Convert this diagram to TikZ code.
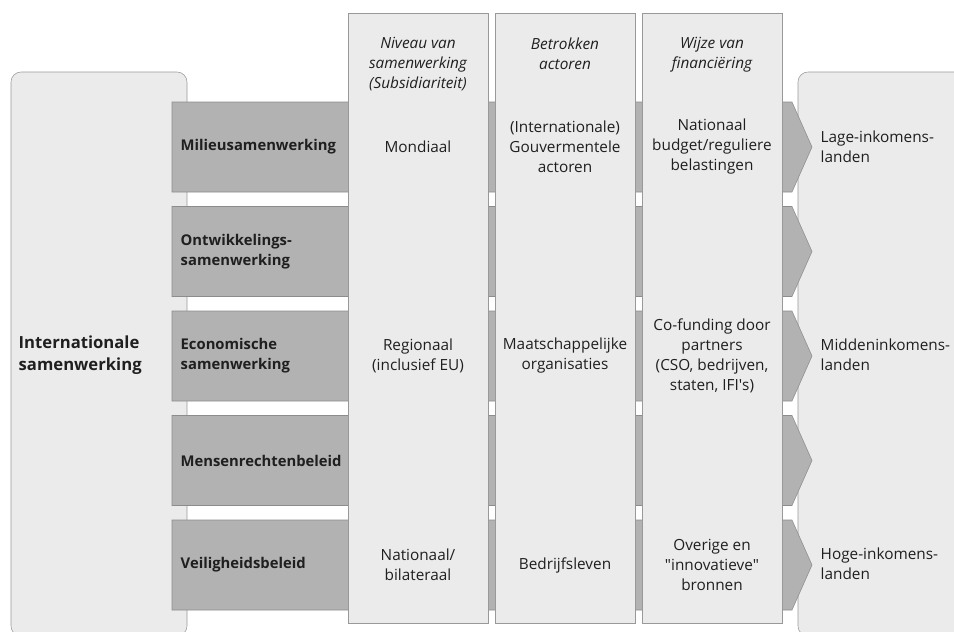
\documentclass[tikz,border=0pt]{standalone}
\usepackage{fontspec}
\setmainfont{Open Sans}
\usetikzlibrary{calc}

\newcommand{\bodysize}{\fontsize{11.5}{15}\selectfont}

\begin{document}
\begin{tikzpicture}[x=0.75pt, y=-0.75pt, font=\bodysize, text=black!88]

% Define the box dimensions
\def\px{0.75pt}
\def\barleft{172}
\def\barright{783}
\def\barheight{90}
\def\barstep{104.5}
\def\bartop{102}
\def\tipflat{9}
\def\tiplen{29}
\def\colwidth{140}
\def\colgap{7}
\def\coltop{13}
\def\colbottom{623}

% Define colors
\colorlet{panelfill}{black!8}
\colorlet{paneldraw}{black!40}
\colorlet{barfill}{black!30}
\colorlet{bardraw}{black!45}

\useasboundingbox (0,0) rectangle (954,632);

% Draw the two outer boxes
\node[draw=paneldraw, fill=panelfill, rounded corners=10*\px, minimum width=176*\px, minimum height=564*\px, inner sep=0pt, outer sep=0pt, anchor=north west] (intlbox) at (11,72) {};
\node[draw=paneldraw, fill=panelfill, rounded corners=10*\px, minimum width=176*\px, minimum height=564*\px, inner sep=0pt, outer sep=0pt, anchor=north west] (landbox) at (798,72) {};

\node[font=\fontsize{12.5}{17}\selectfont\bfseries, align=left, anchor=west] (intl) at (14,355) {Internationale\\samenwerking};

% Draw the five bars with their arrow tips
\foreach \i/\lbl in {0/Milieusamenwerking, 1/{Ontwikkelings-\\samenwerking}, 2/{Economische\\samenwerking}, 3/Mensenrechtenbeleid, 4/Veiligheidsbeleid} {
    \pgfmathsetmacro{\ytop}{\bartop+\i*\barstep}
    \pgfmathsetmacro{\ybot}{\ytop+\barheight}
    \pgfmathsetmacro{\ymid}{\ytop+\barheight/2}
    \filldraw[draw=bardraw, fill=barfill]
        (\barleft,\ytop) -- (\barright+\tipflat,\ytop) -- (\barright+\tiplen,\ymid)
        -- (\barright+\tipflat,\ybot) -- (\barleft,\ybot) -- cycle;
    \node[font=\fontsize{11.1}{15}\selectfont\bfseries, align=left, anchor=west] (bar\i) at (\barleft+4,\ymid) {\lbl};
}

% Draw the three columns on top of the bars
\foreach \j/\head in {0/{Niveau van\\samenwerking\\(Subsidiariteit)}, 1/{Betrokken\\actoren}, 2/{Wijze van\\financiëring}} {
    \pgfmathsetmacro{\xleft}{348+\j*(\colwidth+\colgap)}
    \node[draw=paneldraw, fill=panelfill, minimum width=\colwidth*\px, minimum height=(\colbottom-\coltop)*\px, inner sep=0pt, outer sep=0pt, anchor=north west] (col\j) at (\xleft,\coltop) {};
    \node[font=\bodysize\itshape, align=center, anchor=north] (head\j) at (col\j.north) [yshift=-20*\px] {\head};
}

% Column texts
\node[align=center] (lvl0) at (col0 |- bar0) {Mondiaal};
\node[align=center] (lvl2) at (col0 |- bar2) {Regionaal\\(inclusief EU)};
\node[align=center] (lvl4) at (col0 |- bar4) {Nationaal/\\bilateraal};

\node[align=center] (act0) at (col1 |- bar0) {(Internationale)\\Gouvermentele\\actoren};
\node[align=center] (act2) at (col1 |- bar2) {Maatschappelijke\\organisaties};
\node[align=center] (act4) at (col1 |- bar4) {Bedrijfsleven};

\node[align=center] (fin0) at (col2 |- bar0) {Nationaal\\budget/reguliere\\belastingen};
\node[align=center] (fin2) at (col2 |- bar2) {Co-funding door\\partners\\(CSO, bedrijven,\\staten, IFI\textquotesingle s)};
\node[align=center] (fin4) at (col2 |- bar4) {Overige en\\\textquotedbl innovatieve\textquotedbl\\bronnen};

% Income groups
\node[align=left, anchor=west] (low) at (816,147) {Lage-inkomens-\\landen};
\node[align=left, anchor=west] (mid) at (816,355) {Middeninkomens-\\landen};
\node[align=left, anchor=west] (high) at (816,564) {Hoge-inkomens-\\landen};

\end{tikzpicture}
\end{document}
